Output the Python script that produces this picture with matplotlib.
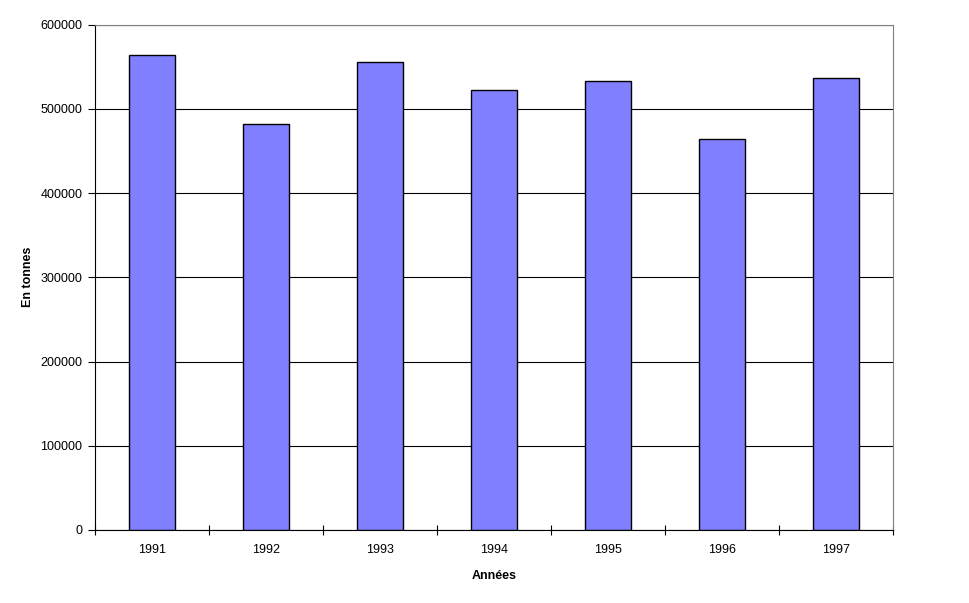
import numpy as np
import matplotlib.pyplot as plt

years = ['1991', '1992', '1993', '1994', '1995', '1996', '1997']
tonnes = [564000, 482000, 556000, 522000, 533000, 464000, 536000]

plt.rcParams['font.family'] = ['Liberation Sans', 'DejaVu Sans']

fig = plt.figure(figsize=(9.69, 6.03), dpi=100)
ax = fig.add_axes([95 / 969, 73 / 603, 798 / 969, 505.5 / 603])

x = np.arange(len(years))
ax.bar(x, tonnes, width=0.41, color='#7f7fff', edgecolor='black', linewidth=1.0, zorder=3)

ax.set_xlim(-0.5, len(years) - 0.5)
ax.set_ylim(0, 600000)
ax.set_yticks(np.arange(0, 600001, 100000))
ax.set_yticklabels([str(v) for v in range(0, 600001, 100000)], fontsize=9)
ax.yaxis.grid(True, color='black', linewidth=0.8, zorder=0)

# category labels centred, ticks between categories
ax.set_xticks(x)
ax.set_xticklabels(years, fontsize=9)
ax.tick_params(axis='x', which='major', length=0, pad=10)
ax.set_xticks(np.arange(-0.5, len(years)), minor=True)
ax.tick_params(axis='x', which='minor', direction='inout', length=7, width=0.8)
ax.tick_params(axis='y', direction='out', length=5, width=0.8, pad=4)

for side in ['left', 'bottom']:
    ax.spines[side].set_color('black')
    ax.spines[side].set_linewidth(0.8)
for side in ['top', 'right']:
    ax.spines[side].set_color('#808080')
    ax.spines[side].set_linewidth(0.8)

ax.set_ylabel('En tonnes', fontsize=9, fontweight='bold', labelpad=5)
ax.set_xlabel('Années', fontsize=9, fontweight='bold', labelpad=10)

fig.savefig('out.png', dpi=100)
